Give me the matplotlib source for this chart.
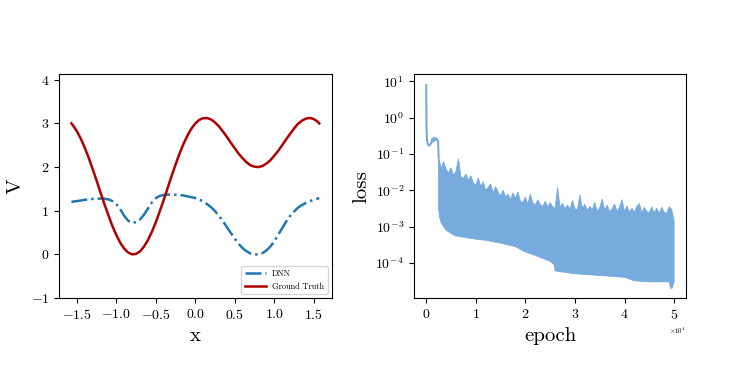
import numpy as np
import matplotlib
matplotlib.use("Agg")
import matplotlib.pyplot as plt

plt.rcParams['font.family'] = 'serif'
plt.rcParams['font.serif'] = ['cmr10']
plt.rcParams['mathtext.fontset'] = 'cm'
plt.rcParams['axes.formatter.use_mathtext'] = True
plt.rcParams['axes.unicode_minus'] = True

# --- left panel: potential V(x) ---
x = [-1.57, -1.55, -1.5, -1.45, -1.4, -1.35, -1.3, -1.25, -1.2, -1.15, -1.1,
     -1.05, -1.0, -0.95, -0.9, -0.85, -0.8, -0.75, -0.7, -0.65, -0.6, -0.55,
     -0.5, -0.45, -0.4, -0.35, -0.3, -0.25, -0.2, -0.15, -0.1, -0.05, 0.0,
     0.05, 0.1, 0.15, 0.2, 0.25, 0.3, 0.35, 0.4, 0.45, 0.5, 0.55, 0.6, 0.65,
     0.7, 0.75, 0.8, 0.85, 0.9, 0.95, 1.0, 1.05, 1.1, 1.15, 1.2, 1.25, 1.3,
     1.35, 1.4, 1.45, 1.5, 1.55, 1.57]
v_true = [3.00, 2.955, 2.82, 2.646, 2.44, 2.207, 1.95, 1.685, 1.41, 1.142, 0.89,
          0.647, 0.44, 0.263, 0.13, 0.042, 0.00, 0.013, 0.07, 0.180, 0.33, 0.520,
          0.74, 0.990, 1.25, 1.526, 1.80, 2.061, 2.31, 2.530, 2.72, 2.880, 3.00,
          3.080, 3.12, 3.121, 3.09, 3.020, 2.93, 2.814, 2.69, 2.556, 2.43, 2.303,
          2.20, 2.107, 2.04, 2.008, 2.00, 2.025, 2.08, 2.155, 2.26, 2.373, 2.50,
          2.634, 2.76, 2.882, 2.99, 3.062, 3.11, 3.125, 3.10, 3.038, 3.00]
v_dnn = [1.20, 1.21, 1.22, 1.235, 1.25, 1.26, 1.27, 1.275, 1.28, 1.275, 1.26,
         1.22, 1.15, 1.03, 0.88, 0.77, 0.72, 0.74, 0.80, 0.91, 1.05, 1.19,
         1.29, 1.34, 1.36, 1.37, 1.37, 1.365, 1.36, 1.35, 1.33, 1.31, 1.29,
         1.26, 1.21, 1.15, 1.08, 0.99, 0.88, 0.76, 0.62, 0.49, 0.36, 0.24,
         0.14, 0.07, 0.02, 0.0, 0.0, 0.03, 0.09, 0.18, 0.30, 0.45, 0.60,
         0.75, 0.88, 0.98, 1.07, 1.13, 1.18, 1.22, 1.25, 1.28, 1.29]

# --- right panel: training loss ---
init_epochs = [0, 30, 60, 100, 150, 250, 400, 600, 800, 1000, 1200, 1400, 1600,
               1800, 2000, 2200, 2400, 2500]
init_loss = [8, 1.5, 0.5, 0.35, 0.25, 0.2, 0.18, 0.17, 0.18, 0.2, 0.26, 0.22,
             0.28, 0.24, 0.27, 0.25, 0.22, 0.08]

band_epochs = np.arange(2500, 50001, 500)
band_upper = np.array([
    85, 40, 62, 38, 30, 42, 26, 33, 74, 24,
    21, 28, 19, 25, 16, 14, 22, 13, 17, 10,
    12, 15, 8.5, 12.5, 9, 7, 10, 6.5, 7.8, 5.5,
    8.5, 6, 9, 5, 4.6, 6.5, 4.2, 7.8, 4.5, 3.9,
    5.5, 4.1, 3.6, 5, 3.4, 4.6, 3.5, 3.2, 12, 3.4,
    4.4, 3.1, 3.9, 3.0, 5.2, 3.1, 2.9, 7.5, 3.2, 4.1,
    2.8, 3.6, 2.9, 4.6, 2.7, 3.3, 5.8, 2.8, 3.9, 2.6,
    3.1, 4.2, 2.6, 3.5, 5.5, 2.6, 3.7, 2.5, 3.2, 2.5,
    3.6, 4.3, 2.4, 3.4, 2.6, 2.4, 3.5, 2.4, 3.2, 2.3,
    3.4, 2.5, 2.3, 3.5, 3.0, 1.5]) * 1e-3

lower_epochs = [2500, 2700, 3000, 3500, 4000, 5000, 6000, 8000, 10000, 12000,
                15000, 18000, 20000, 22000, 25000, 25800, 26000, 30000, 35000,
                40000, 42000, 45000, 48000, 49000, 49300, 49600, 50000]
lower_loss = [3e-3, 1.8e-3, 1.3e-3, 1e-3, 8e-4, 6.5e-4, 5.5e-4, 5e-4, 4.5e-4,
              4.2e-4, 3.5e-4, 2.8e-4, 2e-4, 1.6e-4, 1.1e-4, 9e-5, 6e-5, 5e-5,
              4.5e-5, 4e-5, 3.2e-5, 3e-5, 3e-5, 3e-5, 2e-5, 2e-5, 3e-5]

loss_color = '#77aadd'

fig = plt.figure(figsize=(7.47, 3.74), dpi=100)
ax1 = fig.add_axes([0.079, 0.203, 0.365, 0.599])
ax2 = fig.add_axes([0.554, 0.203, 0.365, 0.599])

ax1.plot(x, v_dnn, color='#1f77b4', linestyle='-.', linewidth=1.8, label='DNN')
ax1.plot(x, v_true, color='#b00000', linewidth=1.8, label='Ground Truth')
ax1.set_ylim(-1, 4.13)
ax1.set_xticks([-1.5, -1.0, -0.5, 0.0, 0.5, 1.0, 1.5])
ax1.set_xlabel('x', fontsize=15)
ax1.set_ylabel('V', fontsize=15)
ax1.tick_params(labelsize=10)
ax1.legend(loc='lower right', fontsize=6, handlelength=2.5)

ax2.plot(init_epochs, init_loss, color=loss_color, linewidth=1.5)
ax2.fill(np.r_[band_epochs, lower_epochs[::-1]],
         np.r_[band_upper, lower_loss[::-1]],
         color=loss_color, linewidth=0.6, edgecolor=loss_color)
ax2.set_yscale('log')
ax2.set_ylim(1.07e-5, 16)
ax2.set_xlim(-2500, 52500)
ax2.ticklabel_format(style='sci', axis='x', scilimits=(0, 0))
ax2.xaxis.get_offset_text().set_fontsize(5)
ax2.set_yticks([1e-4, 1e-3, 1e-2, 1e-1, 1e0, 1e1])
ax2.minorticks_off()
ax2.set_xlabel('epoch', fontsize=15)
ax2.set_ylabel('loss', fontsize=15)
ax2.tick_params(labelsize=10)

fig.savefig('out.png', dpi=100)
